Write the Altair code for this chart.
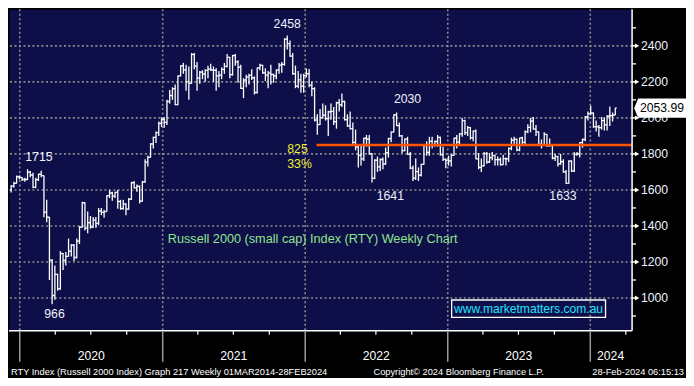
import altair as alt
import pandas as pd

# ---------------- data: weekly bars (weeks ending 6-Dec-2019 .. 1-Mar-2024) ----------------
first_bar_date = "2019-12-10"      # each week is drawn just after its Friday close
first_open = 1600

close_2019 = [1621, 1637, 1673, 1669]
high_2019 = [1627, 1645, 1680, 1680]
low_2019 = [1586, 1612, 1636, 1660]

close_2020 = [1658, 1658, 1699, 1683, 1614, 1657, 1687, 1679, 1476, 1449,
              1210, 1014, 1131, 1052, 1247, 1209, 1231, 1260, 1293, 1225,
              1316, 1394, 1529, 1388, 1418, 1393, 1432, 1414, 1483, 1475,
              1480, 1568, 1583, 1566, 1586, 1536, 1497, 1523, 1494, 1548,
              1640, 1612, 1620, 1538, 1644, 1754, 1781, 1855, 1892, 1918,
              1969, 1991]
high_2020 = [1672, 1668, 1715, 1705, 1695, 1668, 1690, 1706, 1680, 1545,
             1450, 1215, 1180, 1135, 1260, 1250, 1255, 1330, 1300, 1300,
             1330, 1400, 1535, 1530, 1480, 1455, 1450, 1450, 1500, 1500,
             1490, 1570, 1600, 1590, 1590, 1600, 1545, 1545, 1525, 1555,
             1645, 1650, 1630, 1625, 1650, 1770, 1790, 1860, 1895, 1925,
             1980, 2003]
low_2020 = [1650, 1645, 1655, 1670, 1610, 1610, 1650, 1670, 1448, 1420,
            1100, 966, 990, 1040, 1045, 1155, 1180, 1230, 1230, 1205,
            1220, 1300, 1390, 1375, 1360, 1385, 1390, 1390, 1405, 1460,
            1445, 1480, 1555, 1540, 1555, 1495, 1490, 1490, 1460, 1490,
            1545, 1610, 1590, 1525, 1535, 1640, 1730, 1780, 1830, 1860,
            1900, 1950]

close_2021 = [1975, 2091, 2124, 2162, 2074, 2233, 2289, 2266, 2201, 2192,
              2352, 2287, 2221, 2254, 2243, 2264, 2271, 2266, 2264, 2233,
              2237, 2269, 2286, 2336, 2240, 2346, 2311, 2281, 2164, 2210,
              2226, 2236, 2222, 2141, 2278, 2292, 2250, 2237, 2248, 2241,
              2233, 2265, 2293, 2297, 2437, 2412, 2343, 2245, 2176, 2211,
              2176, 2234, 2245]
high_2021 = [2003, 2100, 2155, 2170, 2185, 2235, 2292, 2305, 2295, 2285,
             2360, 2360, 2310, 2260, 2265, 2270, 2290, 2300, 2285, 2275,
             2260, 2280, 2305, 2355, 2340, 2350, 2355, 2320, 2295, 2220,
             2240, 2245, 2270, 2230, 2280, 2300, 2295, 2275, 2260, 2295,
             2245, 2270, 2305, 2310, 2442, 2458, 2430, 2360, 2290, 2260,
             2245, 2245, 2275]
low_2021 = [1945, 1960, 2080, 2100, 2070, 2070, 2230, 2245, 2150, 2100,
            2190, 2270, 2150, 2190, 2215, 2200, 2220, 2260, 2200, 2150,
            2170, 2215, 2245, 2280, 2220, 2235, 2290, 2195, 2160, 2110,
            2170, 2185, 2210, 2130, 2135, 2265, 2245, 2205, 2165, 2185,
            2195, 2215, 2245, 2250, 2290, 2380, 2340, 2240, 2165, 2165,
            2140, 2140, 2225]

close_2022 = [2180, 2162, 1988, 1963, 2002, 2015, 1996, 2034, 2036, 1979,
              2084, 2073, 2091, 1990, 1956, 1940, 1864, 1839, 1792, 1773,
              1887, 1882, 1800, 1665, 1765, 1728, 1769, 1744, 1806, 1885,
              1921, 2017, 1957, 1900, 1818, 1882, 1798, 1721, 1665, 1702,
              1682, 1742, 1846, 1809, 1870, 1849, 1869, 1892, 1796, 1770,
              1765, 1761]
high_2022 = [2272, 2200, 2170, 2020, 2050, 2080, 2070, 2040, 2080, 2060,
             2090, 2105, 2135, 2095, 2020, 2035, 1975, 1935, 1850, 1845,
             1890, 1905, 1905, 1805, 1770, 1785, 1775, 1780, 1835, 1890,
             1925, 2020, 2030, 1975, 1905, 1885, 1895, 1810, 1735, 1775,
             1725, 1745, 1850, 1870, 1895, 1895, 1875, 1905, 1895, 1840,
             1775, 1790]
low_2022 = [2170, 2120, 1980, 1906, 1960, 1995, 1985, 1900, 1990, 1960,
            1940, 2035, 2060, 1985, 1950, 1935, 1855, 1820, 1725, 1735,
            1760, 1840, 1795, 1641, 1660, 1700, 1705, 1715, 1740, 1780,
            1865, 1920, 1955, 1895, 1805, 1815, 1795, 1715, 1650, 1655,
            1650, 1675, 1740, 1790, 1790, 1830, 1840, 1840, 1790, 1760,
            1720, 1735]

close_2023 = [1792, 1887, 1866, 1911, 1985, 1918, 1946, 1890, 1927, 1773,
              1725, 1734, 1802, 1755, 1779, 1791, 1768, 1768, 1740, 1774,
              1773, 1830, 1876, 1881, 1822, 1889, 1864, 1924, 1947, 1982,
              1938, 1922, 1853, 1850, 1908, 1846, 1847, 1776, 1785, 1745,
              1757, 1700, 1636, 1760, 1705, 1797, 1801, 1863, 1880, 2005,
              2024, 2027]
high_2023 = [1800, 1890, 1905, 1915, 2000, 1990, 1955, 1950, 1930, 1935,
             1805, 1775, 1810, 1810, 1805, 1810, 1795, 1785, 1780, 1795,
             1780, 1835, 1890, 1895, 1885, 1890, 1895, 1930, 1965, 2000,
             2005, 1960, 1925, 1880, 1920, 1910, 1885, 1850, 1800, 1790,
             1800, 1770, 1710, 1765, 1765, 1810, 1810, 1865, 1885, 2010,
             2035, 2067]
low_2023 = [1730, 1790, 1830, 1850, 1895, 1905, 1900, 1880, 1870, 1770,
            1715, 1700, 1730, 1745, 1750, 1765, 1735, 1735, 1735, 1740,
            1735, 1755, 1820, 1855, 1815, 1815, 1845, 1855, 1915, 1920,
            1935, 1900, 1845, 1830, 1845, 1840, 1840, 1770, 1760, 1730,
            1740, 1695, 1633, 1634, 1700, 1700, 1790, 1780, 1835, 1870,
            1985, 2015]

close_2024 = [1951, 1950, 1946, 1985, 1962, 2009, 2012, 2016, 2054]
high_2024 = [2030, 1985, 1960, 2005, 2000, 2015, 2063, 2030, 2056]
low_2024 = [1945, 1925, 1895, 1935, 1930, 1930, 1955, 1980, 2015]

# ---------------- annotations ----------------
white_labels = ["1715", "966", "2458", "2030", "1641", "1633"]
white_label_dates = ["2020-02-19", "2020-03-30", "2021-11-16", "2022-09-20", "2022-08-07", "2023-10-23"]
white_label_values = [1783, 913, 2522, 2104, 1566, 1566]

yellow_labels = ["825", "33%"]
yellow_label_dates = ["2021-11-16", "2021-11-16"]
yellow_label_values = [1829, 1745]

chart_title = "Russell 2000 (small cap) Index (RTY) Weekly Chart"
chart_title_date = "2022-01-20"
chart_title_value = 1327

url_text = "www.marketmatters.com.au"
url_date = "2023-07-27"
url_value = 941
url_box_dates = ["2023-01-11", "2024-02-09"]
url_box_values = [893, 989]

support_level = 1850
support_start = "2022-01-30"

last_price = 2053.99

year_labels = ["2020", "2021", "2022", "2023", "2024"]
year_label_dates = ["2020-07-02", "2021-07-02", "2022-07-02", "2023-07-02", "2024-02-22"]
year_starts = ["2020-01-01", "2021-01-01", "2022-01-01", "2023-01-01", "2024-01-01"]
quarter_starts = ["2020-04-01", "2020-07-01", "2020-10-01", "2021-04-01", "2021-07-01", "2021-10-01",
                  "2022-04-01", "2022-07-01", "2022-10-01", "2023-04-01", "2023-07-01", "2023-10-01",
                  "2024-04-01"]

footer_left = "RTY Index (Russell 2000 Index) Graph 217  Weekly 01MAR2014-28FEB2024"
footer_mid = "Copyright\u00a9 2024 Bloomberg Finance L.P."
footer_right = "28-Feb-2024 06:15:13"

y_major = [1000, 1200, 1400, 1600, 1800, 2000, 2200, 2400]
y_minor = [900, 1100, 1300, 1500, 1700, 1900, 2100, 2300, 2500]

# ---------------- build tables ----------------
close = close_2019 + close_2020 + close_2021 + close_2022 + close_2023 + close_2024
high = high_2019 + high_2020 + high_2021 + high_2022 + high_2023 + high_2024
low = low_2019 + low_2020 + low_2021 + low_2022 + low_2023 + low_2024
assert len(close) == len(high) == len(low) == 222
opens = [first_open] + close[:-1]
dates = pd.date_range(first_bar_date, periods=len(close), freq="W-TUE")
bars = pd.DataFrame({"date": dates, "open": opens, "high": high, "low": low, "close": close})

W, H = 624, 322
FONT = "Liberation Sans"
NAVY = "#0e0e48"
GRID = "#8c8c8c"
LBL = "#eef4ff"

xscale = alt.Scale(domain=[alt.DateTime(year=2019, month=12, date=4, hours=12),
                           alt.DateTime(year=2024, month=4, date=17)], nice=False)
yscale = alt.Scale(domain=[818, 2603], nice=False, zero=False)


def X(field):
    return alt.X(field, scale=xscale, axis=None)


def Y(field):
    return alt.Y(field, scale=yscale, axis=None)


# grid
major_df = pd.DataFrame({"v": y_major, "t": [str(v) for v in y_major]})
minor_df = pd.DataFrame({"v": y_minor})
years_df = pd.DataFrame({"d": pd.to_datetime(year_starts)})
quarters_df = pd.DataFrame({"d": pd.to_datetime(quarter_starts)})

hgrid = alt.Chart(major_df).mark_rule(color=GRID, strokeDash=[2, 2.5], strokeWidth=1.6).encode(y=Y("v:Q"))
vgrid = alt.Chart(years_df).mark_rule(color=GRID, strokeDash=[2, 2.5], strokeWidth=1.6).encode(x=X("d:T"))

# bars
base = alt.Chart(bars)
hl = base.mark_rule(color="white", strokeWidth=1.3).encode(x=X("date:T"), y=Y("low:Q"), y2="high:Q")
op = base.mark_rule(color="white", strokeWidth=1.3, xOffset=-1.5, x2Offset=0).encode(
    x=X("date:T"), x2="date:T", y=Y("open:Q"))
cl = base.mark_rule(color="white", strokeWidth=1.3, xOffset=0, x2Offset=1.5).encode(
    x=X("date:T"), x2="date:T", y=Y("close:Q"))

sup_df = pd.DataFrame({"d": [pd.Timestamp(support_start)], "v": [support_level]})
support = alt.Chart(sup_df).mark_rule(color="#ff5500", strokeWidth=2.5).encode(
    x=X("d:T"), x2=alt.value(W), y=Y("v:Q"))

wl_df = pd.DataFrame({"t": white_labels, "d": pd.to_datetime(white_label_dates), "v": white_label_values})
wl = alt.Chart(wl_df).mark_text(color=LBL, font=FONT, fontSize=12.3).encode(
    x=X("d:T"), y=Y("v:Q"), text="t:N")

yl_df = pd.DataFrame({"t": yellow_labels, "d": pd.to_datetime(yellow_label_dates), "v": yellow_label_values})
yl = alt.Chart(yl_df).mark_text(color="#f0f030", font=FONT, fontSize=12.3, align="left").encode(
    x=X("d:T"), y=Y("v:Q"), text="t:N")

tt_df = pd.DataFrame({"t": [chart_title], "d": [pd.Timestamp(chart_title_date)], "v": [chart_title_value]})
tt = alt.Chart(tt_df).mark_text(color="#8fe48f", font=FONT, fontSize=12.7).encode(
    x=X("d:T"), y=Y("v:Q"), text="t:N")

ub_df = pd.DataFrame({"d0": [pd.Timestamp(url_box_dates[0])], "d1": [pd.Timestamp(url_box_dates[1])],
                      "v0": [url_box_values[0]], "v1": [url_box_values[1]]})
ubox = alt.Chart(ub_df).mark_rect(fillOpacity=0, stroke="white", strokeWidth=1.3).encode(
    x=X("d0:T"), x2="d1:T", y=Y("v0:Q"), y2="v1:Q")
ut_df = pd.DataFrame({"t": [url_text], "d": [pd.Timestamp(url_date)], "v": [url_value]})
ut = alt.Chart(ut_df).mark_text(color="#22e4ff", font=FONT, fontSize=12.1).encode(
    x=X("d:T"), y=Y("v:Q"), text="t:N")

# right axis (drawn by hand)
one = pd.DataFrame({"k": [0]})
right_line = alt.Chart(one).mark_rule(color="white", strokeWidth=1.5).encode(
    x=alt.value(W), y=alt.value(0), y2=alt.value(H))
minor = alt.Chart(minor_df).mark_rule(color="white", strokeWidth=1.3).encode(
    x=alt.value(W), x2=alt.value(W + 4), y=Y("v:Q"))
major_ticks = alt.Chart(major_df).mark_rule(color="white", strokeWidth=1.5).encode(
    x=alt.value(W), x2=alt.value(W + 6), y=Y("v:Q"))
flags = alt.Chart(major_df).mark_point(shape="triangle-right", filled=True, color="white",
                                       opacity=1, size=24).encode(x=alt.value(W + 5), y=Y("v:Q"))
ylabels = alt.Chart(major_df).mark_text(color=LBL, font=FONT, fontSize=12.2, align="left").encode(
    x=alt.value(W + 9), y=Y("v:Q"), text="t:N")

TAG = "M -2.9 0 L -2.5 -1 L 2.5 -1 L 2.5 1 L -2.5 1 Z"
price_df = pd.DataFrame({"v": [last_price], "t": [f"{last_price:.2f}"]})
tag = alt.Chart(price_df).mark_point(shape=TAG, size=368.64, filled=True, fill="white",
                                     opacity=1, strokeWidth=0).encode(x=alt.value(W + 30), y=Y("v:Q"))
tag_text = alt.Chart(price_df).mark_text(color="black", font=FONT, fontSize=12.2).encode(
    x=alt.value(W + 30), y=Y("v:Q"), text="t:N")

# bottom axis (drawn by hand)
bottom_line = alt.Chart(one).mark_rule(color="white", strokeWidth=1.5).encode(
    x=alt.value(0), x2=alt.value(W), y=alt.value(H))
qticks = alt.Chart(quarters_df).mark_rule(color="white", strokeWidth=1.2).encode(
    x=X("d:T"), y=alt.value(H), y2=alt.value(H + 4))
dividers = alt.Chart(years_df).mark_rule(color="#9a9a9a", strokeWidth=1.5).encode(
    x=X("d:T"), y=alt.value(H), y2=alt.value(H + 31))
yr_df = pd.DataFrame({"t": year_labels, "d": pd.to_datetime(year_label_dates)})
years = alt.Chart(yr_df).mark_text(color="white", font=FONT, fontSize=12.2).encode(
    x=X("d:T"), y=alt.value(H + 25), text="t:N")

f1 = alt.Chart(pd.DataFrame({"t": [footer_left]})).mark_text(
    color="white", font=FONT, fontSize=9.3, align="left").encode(
    x=alt.value(2), y=alt.value(H + 41.5), text="t:N")
f2 = alt.Chart(pd.DataFrame({"t": [footer_mid]})).mark_text(
    color="white", font=FONT, fontSize=9.3, align="left").encode(
    x=alt.value(365), y=alt.value(H + 41.5), text="t:N")
f3 = alt.Chart(pd.DataFrame({"t": [footer_right]})).mark_text(
    color="white", font=FONT, fontSize=9.3, align="right").encode(
    x=alt.value(W + 52), y=alt.value(H + 41.5), text="t:N")

chart = alt.layer(
    hgrid, vgrid, hl, op, cl, support, wl, yl, tt, ubox, ut,
    right_line, minor, major_ticks, flags, ylabels, tag, tag_text,
    bottom_line, qticks, dividers, years, f1, f2, f3,
).properties(width=W, height=H, padding=0, background="black").configure_view(
    fill=NAVY, stroke="transparent")

chart.save("out.html", embed_options={"renderer": "svg", "actions": False})
